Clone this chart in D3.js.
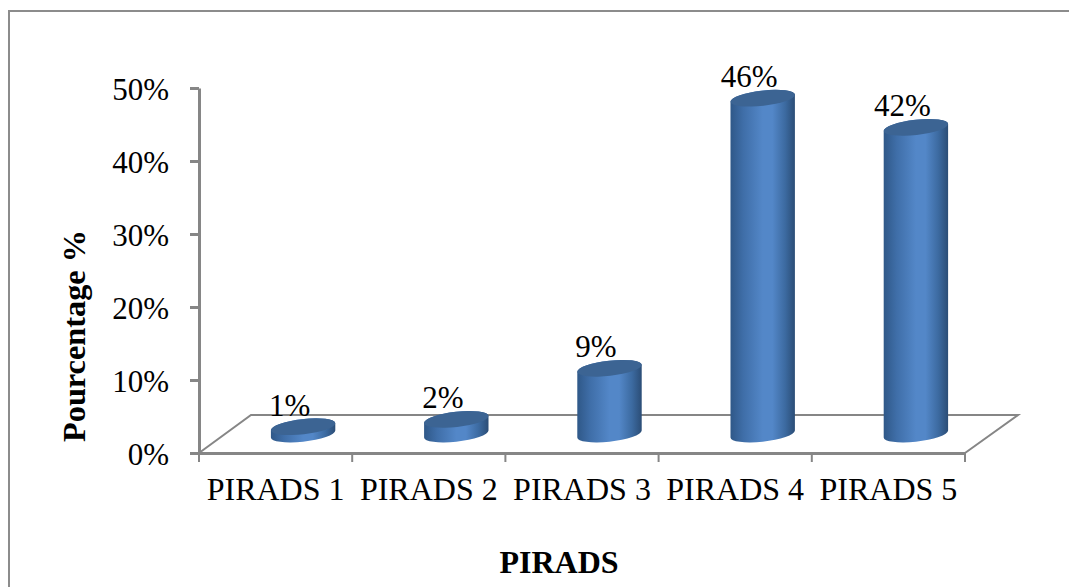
<!DOCTYPE html>
<html>
<head>
<meta charset="utf-8">
<script src="https://cdn.jsdelivr.net/npm/d3@7/dist/d3.min.js"></script>
<style>
  html, body { margin: 0; padding: 0; background: #fff; }
  svg { display: block; }
  text { font-family: "Liberation Serif", "Times New Roman", serif; fill: #000; }
</style>
</head>
<body>
<svg id="chart" width="1069" height="587"></svg>
<script>
const categories = ["PIRADS 1", "PIRADS 2", "PIRADS 3", "PIRADS 4", "PIRADS 5"];
const percentages = [1, 2, 9, 46, 42];
const percentTicks = [0, 10, 20, 30, 40, 50];
const xTitle = "PIRADS";
const yTitle = "Pourcentage %";

const svg = d3.select("#chart");
const axisGrey = "#868686";

const x = d3.scaleBand().domain(categories).range([199, 965]);
const y = d3.scaleLinear().domain([0, 50]).range([453, 88]);

// Receding floor of the 3D plot
const depthX = 52, depthY = 38;

// Cylinder shading
const defs = svg.append("defs");
const shade = defs.append("linearGradient").attr("id", "cylinderShade");
[[0, "#2f5888"], [0.2, "#3f6ea8"], [0.5, "#5387c8"], [0.65, "#5387c8"], [0.85, "#3c6aa0"], [1, "#2b4d76"]]
  .forEach(([o, c]) => shade.append("stop").attr("offset", o).attr("stop-color", c));

// Chart frame: open at the right and bottom edges
svg.append("path")
  .attr("d", d3.line()([[9, 587], [9, 11], [1069, 11]]))
  .attr("fill", "none").attr("stroke", "#8c8c8c").attr("stroke-width", 2);

// Floor outline
const x0 = x.range()[0], x1 = x.range()[1], y0 = y(0);
svg.append("path")
  .attr("d", d3.line()([[x0, y0], [x0 + depthX, y0 - depthY], [x1 + depthX + 1, y0 - depthY], [x1, y0]]))
  .attr("fill", "none").attr("stroke", axisGrey).attr("stroke-width", 2);

// Value axis
const yAxis = svg.append("g")
  .attr("transform", `translate(${x0},0)`)
  .call(d3.axisLeft(y).tickValues(percentTicks).tickFormat(d => d + "%").tickSize(9).tickSizeOuter(0).tickPadding(21));
yAxis.selectAll(".domain, line").attr("stroke", axisGrey).attr("stroke-width", 3);
yAxis.selectAll("text").attr("font-size", 31).attr("font-family", "Liberation Serif").attr("dy", "0.36em");

// Category axis
const xAxis = svg.append("g")
  .attr("transform", `translate(0,${y0})`)
  .call(d3.axisBottom(x).tickSize(0).tickPadding(24));
xAxis.select(".domain").attr("stroke", axisGrey).attr("stroke-width", 3);
xAxis.selectAll("text").attr("font-size", 32).attr("font-family", "Liberation Serif");
xAxis.selectAll("line").remove();
svg.append("g").selectAll("line")
  .data(categories.map(c => x(c)).concat(x1))
  .join("line")
  .attr("x1", d => d).attr("x2", d => d)
  .attr("y1", y0).attr("y2", y0 + 9)
  .attr("stroke", axisGrey).attr("stroke-width", 2);

// Tilted ellipse parameters shared by every cylinder
const rx = 32.4, ry = 7.6, tilt = -6.5 * Math.PI / 180;
const halfW = Math.hypot(rx * Math.cos(tilt), ry * Math.sin(tilt));
const edgeDy = (rx * rx - ry * ry) * Math.sin(tilt) * Math.cos(tilt) / halfW;
const tiltDeg = tilt * 180 / Math.PI;

const bars = svg.append("g").selectAll("g")
  .data(categories.map((c, i) => ({ c, v: percentages[i] })))
  .join("g")
  .attr("transform", d => `translate(${x(d.c) + x.bandwidth() / 2 + depthX / 2 + 1.5},0)`);

const baseY = y(0) - depthY / 2;
const topY = d => y(d.v) - depthY / 2;

bars.append("path")
  .attr("fill", "url(#cylinderShade)")
  .attr("d", d => [
    `M${-halfW},${topY(d) - edgeDy}`,
    `L${-halfW},${baseY - edgeDy}`,
    `A${rx},${ry} ${tiltDeg} 0 0 ${halfW},${baseY + edgeDy}`,
    `L${halfW},${topY(d) + edgeDy}`,
    `A${rx},${ry} ${tiltDeg} 0 0 ${-halfW},${topY(d) - edgeDy}`,
    "Z"
  ].join(""));

bars.append("ellipse")
  .attr("rx", rx).attr("ry", ry)
  .attr("fill", "#3c6493")
  .attr("transform", d => `translate(0,${topY(d)}) rotate(${tiltDeg})`);

bars.append("text")
  .attr("x", -13.5)
  .attr("y", d => topY(d) - 11)
  .attr("text-anchor", "middle")
  .attr("font-size", 31)
  .text(d => d.v + "%");

// Axis titles
svg.append("text")
  .attr("x", 559).attr("y", 573)
  .attr("text-anchor", "middle")
  .attr("font-size", 32).attr("font-weight", "bold")
  .text(xTitle);

svg.append("text")
  .attr("transform", "translate(85,336) rotate(-90)")
  .attr("text-anchor", "middle")
  .attr("font-size", 32.3).attr("font-weight", "bold")
  .text(yTitle);
</script>
</body>
</html>
